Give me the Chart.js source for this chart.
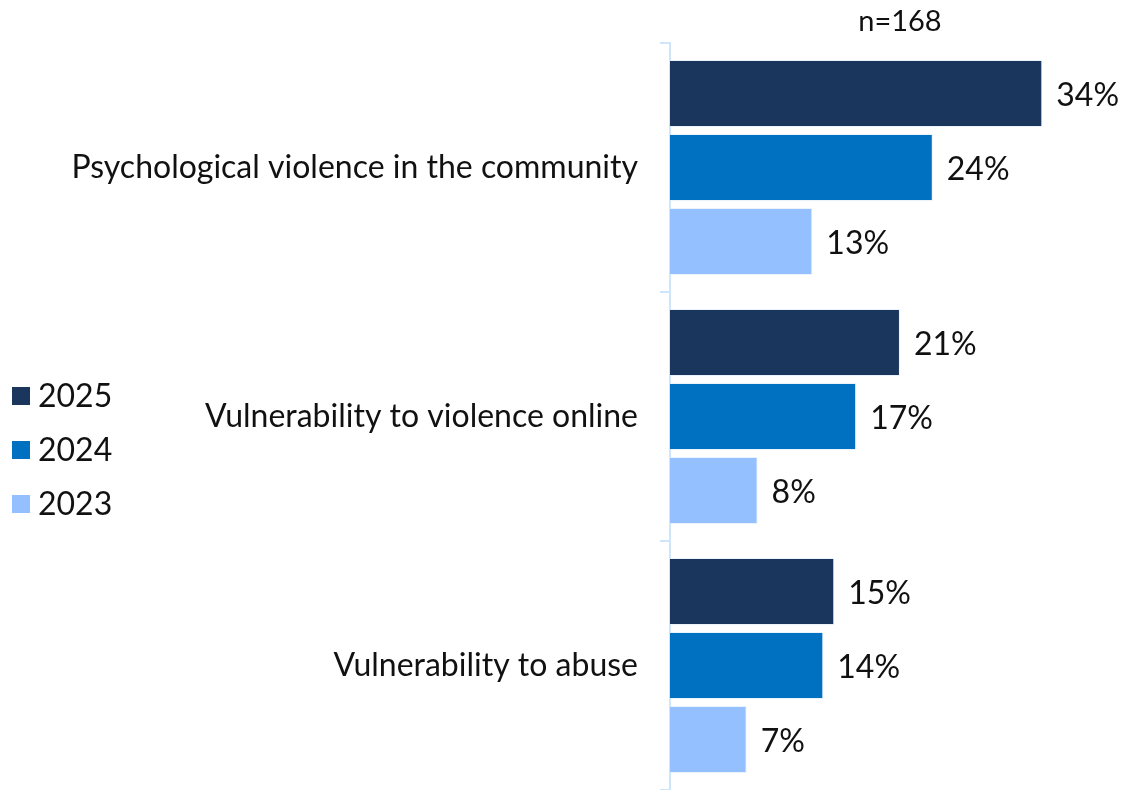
<!DOCTYPE html>
<html>
<head>
<meta charset="utf-8">
<script src="https://cdn.jsdelivr.net/npm/chart.js@4/dist/chart.umd.min.js"></script>
<style>
  html, body { margin: 0; padding: 0; background: #ffffff; }
  #wrap { width: 1124px; height: 790px; position: relative; }
</style>
</head>
<body>
<div id="wrap"><canvas id="c"></canvas></div>
<script>
// Categories and yearly shares (%)
const categories = [
  'Psychological violence in the community',
  'Vulnerability to violence online',
  'Vulnerability to abuse'
];
const years = ['2025', '2024', '2023'];
const values2025 = [34, 21, 15];
const values2024 = [24, 17, 14];
const values2023 = [13, 8, 7];
const sampleNote = 'n=168';

const colors = ['#1b365d', '#0070c0', '#94c0ff'];
const FONT = 'Lato, "Open Sans", sans-serif';

// Writes the percentage just past the end of each bar
const valueLabels = {
  id: 'valueLabels',
  afterDatasetsDraw(chart) {
    const ctx = chart.ctx;
    ctx.save();
    ctx.font = '32px ' + FONT;
    ctx.fillStyle = '#111111';
    ctx.textBaseline = 'middle';
    ctx.textAlign = 'left';
    chart.data.datasets.forEach((ds, i) => {
      chart.getDatasetMeta(i).data.forEach((bar, j) => {
        ctx.fillText(ds.data[j] + '%', bar.x + 14, bar.y + 2);
      });
    });
    ctx.restore();
  }
};

// Sample size note above the bars
const noteLabel = {
  id: 'noteLabel',
  afterDraw(chart) {
    const ctx = chart.ctx;
    const x = chart.scales.x.getPixelForValue(21);
    ctx.save();
    ctx.font = '29px ' + FONT;
    ctx.fillStyle = '#111111';
    ctx.textAlign = 'center';
    ctx.textBaseline = 'middle';
    ctx.fillText(sampleNote, x, 22);
    ctx.restore();
  }
};

// Compact year legend at the left edge
const yearLegend = {
  id: 'yearLegend',
  afterDraw(chart) {
    const ctx = chart.ctx;
    ctx.save();
    ctx.font = '32px ' + FONT;
    ctx.textBaseline = 'middle';
    ctx.textAlign = 'left';
    chart.data.datasets.forEach((ds, i) => {
      const cy = 396 + i * 54;
      ctx.fillStyle = ds.backgroundColor;
      ctx.fillRect(12, cy - 9, 18, 18);
      ctx.fillStyle = '#111111';
      ctx.fillText(ds.label, 38, cy + 1);
    });
    ctx.restore();
  }
};

new Chart(document.getElementById('c'), {
  type: 'bar',
  data: {
    labels: categories,
    datasets: [
      { label: years[0], data: values2025, backgroundColor: colors[0] },
      { label: years[1], data: values2024, backgroundColor: colors[1] },
      { label: years[2], data: values2023, backgroundColor: colors[2] }
    ].map(d => Object.assign(d, {
      borderColor: 'rgba(220,235,250,0.6)',
      borderWidth: 1,
      borderSkipped: 'start',
      categoryPercentage: 0.892,
      barPercentage: 0.905
    }))
  },
  options: {
    indexAxis: 'y',
    responsive: true,
    maintainAspectRatio: false,
    animation: false,
    devicePixelRatio: 1,
    layout: { padding: { top: 43, right: 16, bottom: 0, left: 0 } },
    plugins: {
      legend: { display: false },
      title: { display: false },
      tooltip: { enabled: false }
    },
    scales: {
      x: {
        display: false,
        min: 0,
        max: 40
      },
      y: {
        offset: true,
        afterFit(s) {
          s.width = 670;
          s.paddingTop = 0;
          s.paddingBottom = 0;
        },
        border: { display: true, color: '#cfe5fb', width: 2 },
        grid: {
          offset: true,
          drawOnChartArea: false,
          drawTicks: true,
          tickLength: 10,
          color: '#cfe5fb',
          lineWidth: 2
        },
        ticks: {
          color: '#111111',
          padding: 22,
          font: { family: FONT, size: 32 }
        }
      }
    }
  },
  plugins: [valueLabels, noteLabel, yearLegend]
});
</script>
</body>
</html>
